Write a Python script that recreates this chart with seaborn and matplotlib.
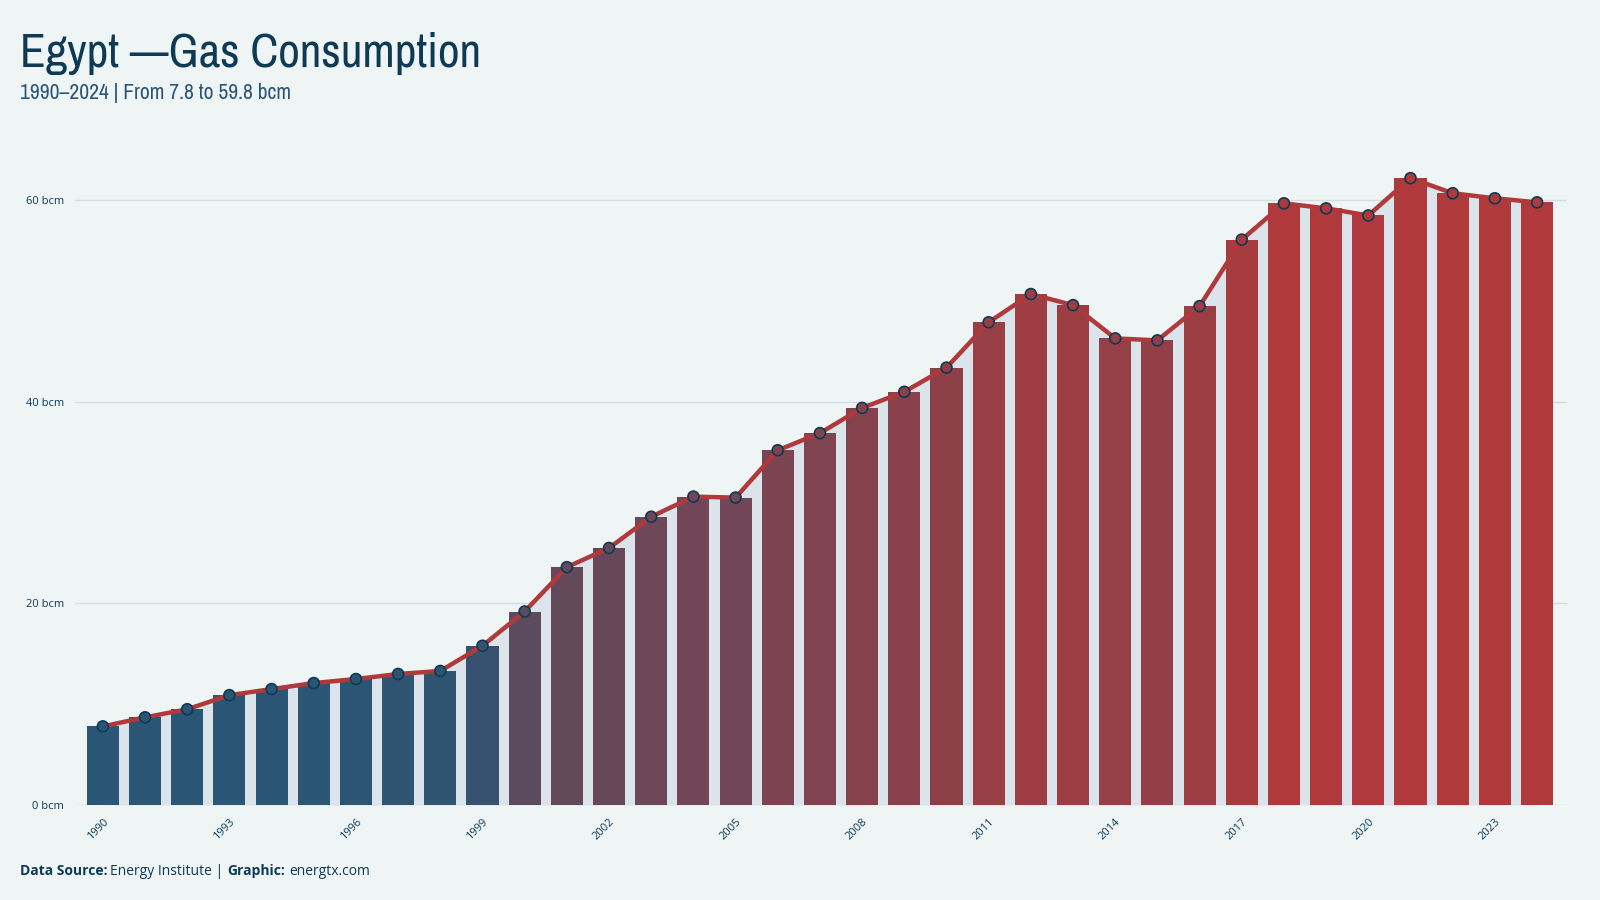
import numpy as np
import pandas as pd
import matplotlib
matplotlib.use("Agg")
import matplotlib.pyplot as plt
from matplotlib import font_manager
from matplotlib.colors import to_rgb, to_hex
import seaborn as sns

years = list(range(1990, 2025))
consumption = [7.8, 8.7, 9.5, 10.9, 11.5, 12.1, 12.5, 13.0, 13.3, 15.8,
               19.2, 23.6, 25.5, 28.6, 30.6, 30.5, 35.2, 36.9, 39.4, 41.0,
               43.4, 47.9, 50.7, 49.6, 46.3, 46.1, 49.5, 56.1, 59.7, 59.2,
               58.5, 62.2, 60.7, 60.2, 59.8]
y_ticks = [0, 20, 40, 60]
y_tick_labels = ["0 bcm", "20 bcm", "40 bcm", "60 bcm"]
x_tick_years = list(range(1990, 2025, 3))

title = "Egypt \u2014Gas Consumption"
subtitle = "1990\u20132024 | From 7.8 to 59.8 bcm"

BG = "#eff5f5"
NAVY = "#0d3a55"
BLUE = "#2a5574"
RED = "#b0393b"
AREA = "#dae4ea"
GRID = "#d3dee4"

names = sorted({f.name for f in font_manager.fontManager.ttflist})
narrow = [n for n in names if ("Narrow" in n or "Condensed" in n)]
cond = narrow[0] if narrow else "DejaVu Sans"
body = "Open Sans" if "Open Sans" in names else "DejaVu Sans"

sns.set_theme(style="white")
plt.rcParams["font.family"] = [body, "DejaVu Sans"]

# colour ramp blue -> red driven by the value
stops_v = [12.0, 15.8, 19.2, 28.6, 43.4, 49.5, 56.1, 59.0]
stops_t = [0.0, 0.10, 0.37, 0.50, 0.75, 0.85, 0.94, 1.0]
b = np.array(to_rgb(BLUE)); r = np.array(to_rgb(RED))
colors = [to_hex(b + (r - b) * np.interp(v, stops_v, stops_t)) for v in consumption]

df = pd.DataFrame({"year": [str(y) for y in years], "value": consumption})
pos = np.arange(len(years))

fig = plt.figure(figsize=(16, 9), dpi=100, facecolor=BG)
ax = fig.add_axes([75/1600, 1 - 805/900, (1567 - 75)/1600, (805 - 160)/900])
ax.set_facecolor(BG)

for yt in y_ticks:
    ax.axhline(yt, color=GRID, lw=1.0, zorder=0)

ax.fill_between(pos, consumption, 0, color=AREA, lw=0, zorder=1)

sns.barplot(data=df, x="year", y="value", hue="year", palette=colors,
            width=0.76, legend=False, ax=ax, saturation=1, linewidth=0, edgecolor="none")
for p in ax.patches:
    p.set_zorder(2)
    p.set_linewidth(0)

sns.lineplot(x=pos, y=consumption, color=RED, lw=3.2, ax=ax, zorder=3)
ax.scatter(pos, consumption, s=62, c=colors, edgecolors=NAVY, linewidths=1.2, zorder=4)

ax.set_xlim(-0.66, len(years) - 1 + 0.71)
ax.set_ylim(0, 64)
ax.set_yticks(y_ticks)
ax.set_yticklabels(y_tick_labels)
ax.set_xticks([years.index(y) for y in x_tick_years])
ax.set_xticklabels([str(y) for y in x_tick_years], rotation=45, ha="right", rotation_mode="anchor")
ax.tick_params(axis="both", length=0, labelsize=8, labelcolor=NAVY, pad=8)
ax.set_xlabel("")
ax.set_ylabel("")
for s in ax.spines.values():
    s.set_visible(False)

fig.text(20/1600, 1 - 67/900, title, fontsize=34, color=NAVY, family=[cond, "DejaVu Sans"],
         fontstretch="condensed", va="baseline")
fig.text(20/1600, 1 - 99/900, subtitle, fontsize=15.5, color="#2b5577", family=[cond, "DejaVu Sans"],
         fontstretch="condensed", va="baseline")

t1 = fig.text(20/1600, 1 - 875/900, "Data Source:", fontsize=10, color=NAVY, weight="bold", va="baseline")
fig.canvas.draw()
bb = t1.get_window_extent()
t2 = fig.text(bb.x1/1600 + 3/1600, 1 - 875/900, "Energy Institute | ", fontsize=10, color=NAVY, va="baseline")
bb2 = t2.get_window_extent()
t3 = fig.text(bb2.x1/1600, 1 - 875/900, "Graphic:", fontsize=10, color=NAVY, weight="bold", va="baseline")
bb3 = t3.get_window_extent()
fig.text(bb3.x1/1600 + 4/1600, 1 - 875/900, "energtx.com", fontsize=10, color=NAVY, va="baseline")

fig.savefig("out.png", dpi=100, facecolor=BG)
